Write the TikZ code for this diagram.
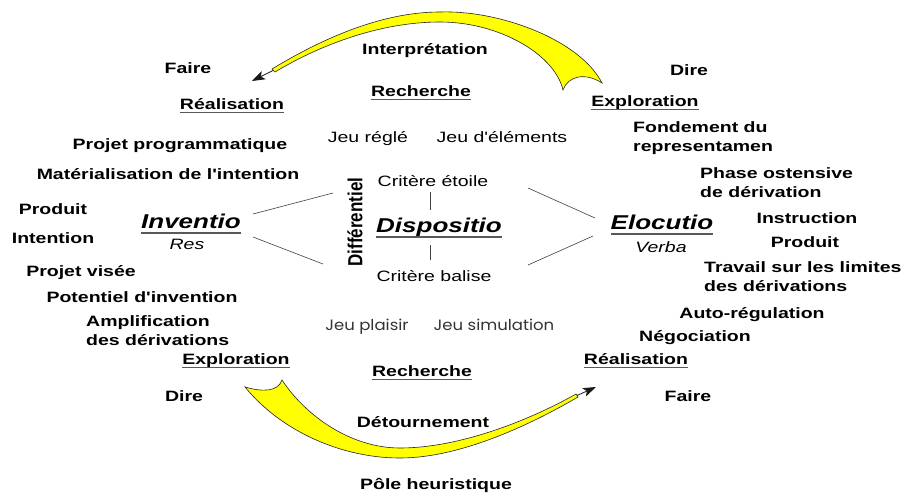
\documentclass[tikz,border=0pt]{standalone}
\usepackage{fontspec}
\usepackage{graphicx}
\setmainfont{Liberation Sans}[FakeStretch=1.3, Ligatures=TeXOff]
\newfontfamily\plainsans{Liberation Sans}[Ligatures=TeXOff]
\newfontfamily\gothic{Poppins}[FakeStretch=1.1]
\usetikzlibrary{arrows.meta}
\definecolor{arrowyellow}{RGB}{255,255,0}
\begin{document}
\begin{tikzpicture}[x=1pt,y=-1pt,
  lbl/.style={inner sep=0pt, text height=12pt, text depth=3pt, font=\bfseries\fontsize{15}{19}\selectfont},
  reg/.style={inner sep=0pt, text height=12pt, text depth=3pt, font=\fontsize{15}{19}\selectfont},
  big/.style={inner sep=0pt, text height=15pt, text depth=4.5pt, font=\bfseries\itshape\fontsize{20}{24}\selectfont},
  sub/.style={inner sep=0pt, text height=12pt, text depth=3pt, font=\itshape\fontsize{15}{19}\selectfont},
  multi/.style={inner sep=0pt, anchor=north west, align=left, font=\bfseries\fontsize{15}{19}\selectfont},
  thin/.style={inner sep=0pt, text height=12pt, text depth=3pt, text=black!80, font=\gothic\fontsize{15}{18}\selectfont},
  ul/.style={draw=black!65, line width=1.5pt},
  link/.style={draw=black!75, line width=0.6pt},
  band/.style={fill=arrowyellow, draw=black!85, line width=0.6pt},
  headline/.style={draw=black!90, line width=0.8pt, -{Stealth[length=13pt,width=9pt,inset=3pt]}}
]
\useasboundingbox (0,0) rectangle (904,495);
\fill[white] (0,0) rectangle (904,495);

% ---------- top arrow (Exploration -> Realisation) ----------
\path[band] (602,83) .. controls (580,40) and (500,10) .. (440,12)
  .. controls (380,12) and (320,40) .. (272,69)
  -- (275,72)
  .. controls (320,45) and (380,22) .. (440,22)
  .. controls (500,22) and (555,55) .. (563,90)
  .. controls (568,76) and (585,72) .. (602,83) -- cycle;
\coordinate (ta) at (273,70.5);
\coordinate (tb) at (252,81);
\draw[headline] (ta) -- (tb);

% ---------- bottom arrow (Exploration -> Realisation) ----------
\path[band] (245,387) .. controls (280,430) and (340,458) .. (400,458)
  .. controls (460,458) and (530,425) .. (578,397)
  -- (576,394)
  .. controls (530,420) and (460,448) .. (400,448)
  .. controls (350,448) and (305,415) .. (282,380)
  .. controls (278,392) and (262,392) .. (245,387) -- cycle;
\coordinate (ba) at (577,395.5);
\coordinate (bb) at (596,387);
\draw[headline] (ba) -- (bb);

% ---------- top labels ----------
\node[lbl] (faire1) at (188,69) {Faire};
\node[lbl] (real1) at (232,105) {Réalisation};
\node[lbl] (interp) at (425,50) {Interprétation};
\node[lbl] (rech1) at (421,92) {Recherche};
\node[lbl] (dire1) at (689,71) {Dire};
\node[lbl] (expl1) at (645,102) {Exploration};
\node[multi] (fond) at (633,121.5) {Fondement du\\representamen};

% ---------- left column ----------
\node[lbl] (projprog) at (180,145) {Projet programmatique};
\node[lbl] (mater) at (168,175) {Matérialisation de l'intention};
\node[lbl] (produit1) at (53,210) {Produit};
\node[lbl] (intention) at (53,239) {Intention};
\node[big] (inventio) at (191,223) {Inventio};
\node[sub] (res) at (187,245) {Res};
\node[lbl] (projvis) at (81,272) {Projet visée};
\node[lbl] (potentiel) at (142,298) {Potentiel d'invention};
\node[multi] (amplif) at (86,315.5) {Amplification\\des dérivations};

% ---------- centre ----------
\node[reg] (jeur) at (368,138) {Jeu réglé};
\node[reg] (jeue) at (502,138) {Jeu d'éléments};
\node[reg] (etoile) at (433,182) {Critère étoile};
\node[big] (dispo) at (439,227) {Dispositio};
\node[reg] (balise) at (434,277) {Critère balise};
\node[rotate=90, inner sep=0pt, font=\plainsans\bfseries\fontsize{17}{20}\selectfont] (diff) at (355,222) {\scalebox{1}[1.2]{Différentiel}};
\node[thin] (jeup) at (367,326) {Jeu plaisir};
\node[thin] (jeus) at (494,326) {Jeu simulation};

\coordinate (tk1a) at (430,192);
\coordinate (tk1b) at (430,210);
\coordinate (tk2a) at (430,245);
\coordinate (tk2b) at (430,260);
\draw[link] (tk1a) -- (tk1b);
\draw[link] (tk2a) -- (tk2b);

% ---------- right column ----------
\node[multi] (phase) at (700,167.5) {Phase ostensive\\de dérivation};
\node[big] (elocutio) at (662,224) {Elocutio};
\node[sub] (verba) at (661,248) {Verba};
\node[lbl] (instruction) at (807,219) {Instruction};
\node[lbl] (produit2) at (805,243) {Produit};
\node[multi] (travail) at (704,261.5) {Travail sur les limites\\des dérivations};
\node[lbl] (auto) at (752,314) {Auto-régulation};
\node[lbl] (nego) at (695,337) {Négociation};

% ---------- bottom labels ----------
\node[lbl] (expl2) at (236,360) {Exploration};
\node[lbl] (real2) at (636,360) {Réalisation};
\node[lbl] (rech2) at (422,372) {Recherche};
\node[lbl] (dire2) at (184,397) {Dire};
\node[lbl] (faire2) at (688,397) {Faire};
\node[lbl] (detour) at (423,423) {Détournement};
\node[lbl] (pole) at (436,485) {Pôle heuristique};

% ---------- underlines ----------
\foreach \n in {real1,rech1,expl1,expl2,real2,rech2,inventio,dispo,elocutio}
  \draw[ul] (\n.south west) -- (\n.south east);

% ---------- connectors between the poles ----------
\coordinate (li1) at (253,214);
\coordinate (li2) at (333,193);
\coordinate (li3) at (253,237);
\coordinate (li4) at (323,264);
\coordinate (ri1) at (528,188);
\coordinate (ri2) at (595,218);
\coordinate (ri3) at (528,265);
\coordinate (ri4) at (593,236);
\draw[link] (li1) -- (li2);
\draw[link] (li3) -- (li4);
\draw[link] (ri1) -- (ri2);
\draw[link] (ri3) -- (ri4);
\end{tikzpicture}
\end{document}
